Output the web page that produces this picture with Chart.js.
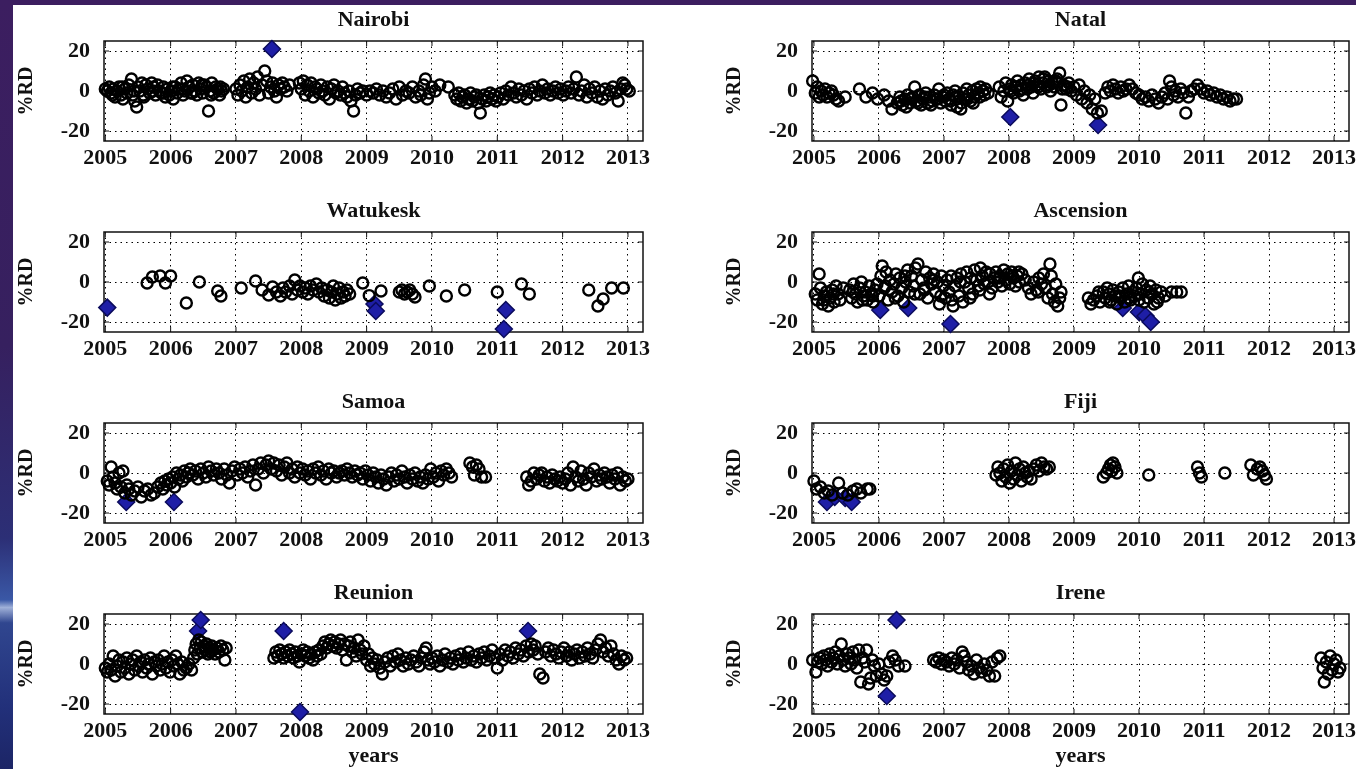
<!DOCTYPE html>
<html>
<head>
<meta charset="utf-8">
<script src="https://cdn.jsdelivr.net/npm/chart.js"></script>
<style>
  html, body { margin: 0; padding: 0; width: 1356px; height: 769px; overflow: hidden; }
  body {
    position: relative;
    background: linear-gradient(180deg, #3c1e60 0%, #36205f 45%, #2c2f76 70%, #3a58a6 78%, #9fb0d8 79%, #30468f 81%, #22307a 92%, #1c2566 100%);
  }
  #sheet { position: absolute; left: 13px; top: 5px; right: 0; bottom: 0; background: #fff; }
  canvas { position: absolute; }
</style>
</head>
<body>
<div id="sheet"></div>

<script>

// tick labels
const yearTicks = [2005, 2006, 2007, 2008, 2009, 2010, 2011, 2012, 2013];
const rdTicks = [-20, 0, 20];

// [year, %RD] per station; *Flag = flagged points (blue diamonds)
const nairobiRD = [
  [2005.00,1],[2005.03,0],[2005.06,2],[2005.09,-1],[2005.11,-2],[2005.12,1],[2005.15,-3],[2005.18,0],[2005.21,2],[2005.24,-2],
  [2005.26,2],[2005.27,-4],[2005.30,1],[2005.33,-1],[2005.36,3],[2005.40,6],[2005.42,-2],[2005.44,0],[2005.45,-5],[2005.48,-8],
  [2005.50,2],[2005.53,0],[2005.56,4],[2005.58,-2],[2005.59,-3],[2005.62,3],[2005.65,1],[2005.68,-1],[2005.71,4],[2005.73,0],
  [2005.74,2],[2005.77,-2],[2005.80,3],[2005.83,0],[2005.86,-1],[2005.88,-1],[2005.89,2],[2005.92,-3],[2005.95,1],[2005.98,-2],
  [2006.01,0],[2006.03,2],[2006.04,-4],[2006.07,2],[2006.10,-1],[2006.13,1],[2006.16,4],[2006.18,1],[2006.19,-2],[2006.22,0],
  [2006.25,5],[2006.28,2],[2006.31,-1],[2006.33,-1],[2006.34,3],[2006.37,0],[2006.40,-2],[2006.43,4],[2006.46,1],[2006.48,3],
  [2006.49,-1],[2006.52,3],[2006.55,2],[2006.58,-10],[2006.60,0],[2006.62,-2],[2006.63,4],[2006.66,-1],[2006.69,2],[2006.72,1],
  [2006.75,-2],[2006.76,2],[2006.78,0],[2006.81,1],
  [2007.00,1],[2007.03,-2],[2007.06,3],[2007.09,0],[2007.12,5],[2007.15,-3],[2007.18,2],[2007.21,6],[2007.24,-1],[2007.27,4],
  [2007.30,1],[2007.33,7],[2007.36,-2],[2007.40,3],[2007.44,10],[2007.47,5],[2007.50,-1],[2007.53,2],[2007.56,4],[2007.59,0],
  [2007.62,-3],[2007.65,3],[2007.68,1],[2007.71,4],[2007.74,2],[2007.78,0],[2007.82,3],
  [2007.97,4],[2008.00,1],[2008.03,5],[2008.06,-2],[2008.09,3],[2008.12,0],[2008.15,4],[2008.18,-3],[2008.21,2],[2008.24,1],
  [2008.27,-1],[2008.30,3],[2008.33,0],[2008.36,-2],[2008.40,2],[2008.43,-4],[2008.46,1],[2008.50,3],[2008.53,-1],[2008.56,0],
  [2008.60,-2],[2008.63,2],[2008.66,-1],[2008.70,-3],[2008.73,0],[2008.76,-5],[2008.80,-10],[2008.83,-2],[2008.86,1],[2008.90,-1],
  [2008.94,0],
  [2009.00,-2],[2009.05,0],[2009.10,-1],[2009.15,1],[2009.20,-2],[2009.25,0],[2009.30,-3],[2009.35,-1],[2009.40,1],[2009.45,-4],
  [2009.50,2],[2009.55,-2],[2009.60,0],[2009.65,-1],[2009.70,2],[2009.75,-3],[2009.80,0],[2009.83,-2],[2009.87,3],[2009.90,6],
  [2009.93,-4],[2009.96,-1],[2010.00,2],[2010.05,0],[2010.12,3],[2010.25,2],
  [2010.35,-2],[2010.38,-4],[2010.41,-1],[2010.44,-5],[2010.47,-3],[2010.50,-2],[2010.53,-6],[2010.56,-4],[2010.59,-1],[2010.62,-5],
  [2010.65,-3],[2010.68,-2],[2010.71,-6],[2010.74,-11],[2010.77,-4],[2010.80,-2],[2010.83,-5],[2010.86,-3],[2010.89,-1],[2010.92,-4],
  [2010.95,-2],[2010.98,-5],
  [2011.01,-3],[2011.05,-1],[2011.09,-4],[2011.13,0],[2011.17,-2],[2011.21,2],[2011.25,-1],[2011.29,-3],[2011.33,1],[2011.37,-2],
  [2011.41,0],[2011.45,-4],[2011.49,1],[2011.53,-1],[2011.57,2],[2011.61,-2],[2011.65,0],[2011.69,3],[2011.73,-1],[2011.77,1],
  [2011.81,-2],[2011.85,0],[2011.89,2],[2011.93,-1],[2011.97,1],[2012.01,-2],[2012.05,0],[2012.09,2],[2012.13,-1],[2012.17,1],
  [2012.21,7],[2012.25,-2],[2012.29,0],[2012.33,3],[2012.37,-3],[2012.41,1],[2012.45,-1],[2012.49,2],[2012.53,-3],[2012.57,0],
  [2012.61,-4],[2012.65,1],[2012.69,-2],[2012.73,0],[2012.77,2],[2012.81,-1],[2012.85,-5],[2012.89,1],[2012.92,4],[2012.95,3],
  [2012.98,1],[2013.02,0]
];
const nairobiFlag = [[2007.55,21]];

const natalRD = [
  [2004.98,5],[2005.02,-1],[2005.05,2],[2005.08,-3],[2005.11,0],[2005.14,-2],[2005.17,1],[2005.20,-3],[2005.23,-1],[2005.27,0],
  [2005.30,-2],[2005.34,-4],[2005.38,-5],[2005.48,-3],[2005.70,1],[2005.80,-3],[2005.90,-1],[2005.98,-4],[2006.08,-2],[2006.15,-5],
  [2006.20,-9],[2006.28,-6],[2006.32,-3],[2006.34,-5],[2006.36,-7],[2006.40,-4],[2006.42,-8],[2006.44,-2],[2006.48,-6],[2006.50,-4],
  [2006.52,-3],[2006.55,2],[2006.58,-5],[2006.60,-6],[2006.62,-2],[2006.65,-7],[2006.68,-4],[2006.70,-3],[2006.72,-1],[2006.75,-6],
  [2006.78,-3],[2006.80,-7],[2006.82,-5],[2006.85,-2],[2006.88,-4],[2006.90,-4],[2006.92,1],[2006.95,-6],[2006.98,-3],[2007.00,-2],
  [2007.02,-5],[2007.05,-1],[2007.08,-4],[2007.10,-5],[2007.11,-7],[2007.14,-2],[2007.17,0],[2007.18,-3],[2007.20,-8],[2007.23,-3],
  [2007.26,-9],[2007.27,-6],[2007.29,-1],[2007.32,-4],[2007.35,1],[2007.36,-4],[2007.38,-2],[2007.41,-5],[2007.44,0],[2007.45,-6],
  [2007.47,-3],[2007.50,1],[2007.53,-1],[2007.55,-3],[2007.56,2],[2007.60,0],[2007.62,-2],[2007.64,1],[2007.68,-1],
  [2007.85,2],[2007.88,-3],[2007.92,0],[2007.95,4],[2007.98,-5],[2008.01,1],[2008.03,0],[2008.04,3],[2008.07,-1],[2008.10,2],
  [2008.12,2],[2008.13,5],[2008.16,0],[2008.19,3],[2008.20,1],[2008.22,-2],[2008.25,4],[2008.28,1],[2008.30,3],[2008.31,6],
  [2008.34,2],[2008.37,-1],[2008.38,4],[2008.40,5],[2008.43,3],[2008.45,2],[2008.46,7],[2008.49,1],[2008.52,4],[2008.53,6],
  [2008.55,7],[2008.58,2],[2008.61,5],[2008.62,3],[2008.64,0],[2008.67,4],[2008.70,2],[2008.72,5],[2008.74,6],[2008.78,9],
  [2008.80,-7],[2008.82,1],[2008.84,3],[2008.88,1],[2008.90,2],[2008.92,4],[2008.96,0],[2009.00,2],[2009.04,-2],[2009.08,3],
  [2009.12,-4],[2009.16,0],[2009.20,-6],[2009.24,-2],[2009.28,-9],[2009.32,-4],[2009.36,-11],[2009.42,-10],[2009.48,-1],[2009.52,2],
  [2009.56,0],[2009.60,3],[2009.64,1],[2009.68,-1],[2009.72,2],[2009.76,0],[2009.80,1],[2009.85,3],[2009.90,1],[2009.95,-1],
  [2010.00,-2],[2010.05,-4],[2010.10,-3],[2010.15,-5],[2010.20,-2],[2010.25,-4],[2010.30,-6],[2010.35,-3],[2010.40,-1],[2010.44,-4],
  [2010.47,5],[2010.50,2],[2010.53,-2],[2010.56,0],[2010.60,-3],[2010.64,1],[2010.68,-1],[2010.72,-11],[2010.76,-3],[2010.80,0],
  [2010.85,1],[2010.90,3],[2010.95,1],[2011.00,-1],[2011.05,0],[2011.10,-2],[2011.15,-1],[2011.20,-3],[2011.25,-2],[2011.30,-4],
  [2011.35,-3],[2011.40,-5],[2011.45,-4],[2011.50,-4]
];
const natalFlag = [[2008.02,-13],[2009.37,-17]];

const watukeskRD = [
  [2005.64,-0.5],[2005.72,2.5],[2005.84,3],[2005.92,-0.5],[2006.00,3],[2006.24,-10.5],[2006.44,0],[2006.72,-4.5],[2006.77,-7],
  [2007.08,-3],[2007.30,0.5],[2007.40,-4],[2007.50,-6.5],[2007.56,-2.5],[2007.62,-5],[2007.68,-7],[2007.72,-3],[2007.76,-5],
  [2007.82,-2],[2007.86,-6],[2007.90,1],[2007.94,-4],[2007.98,-2],[2008.02,-5],[2008.06,-3],[2008.10,-6],[2008.14,-2],[2008.18,-4],
  [2008.23,-1],[2008.27,-5],[2008.31,-3],[2008.35,-7],[2008.39,-4],[2008.43,-8],[2008.46,-5],[2008.49,-2],[2008.52,-9],[2008.55,-6],
  [2008.58,-3],[2008.61,-8],[2008.64,-5],[2008.67,-7],[2008.70,-4],[2008.74,-6],[2008.94,-0.5],[2009.04,-6.8],[2009.22,-4.5],
  [2009.50,-5],[2009.54,-4],[2009.58,-6],[2009.62,-5],[2009.66,-4],[2009.70,-6],[2009.74,-7.5],[2009.96,-2],[2010.22,-7],
  [2010.50,-4],[2011.00,-5],[2011.37,-1],[2011.49,-6],[2012.40,-4],[2012.54,-12],[2012.62,-8.5],[2012.75,-3],[2012.93,-3]
];
const watukeskFlag = [[2005.03,-12.8],[2009.12,-11],[2009.14,-14.5],[2011.13,-14],[2011.10,-23.5]];

const ascensionRD = [
  [2005.02,-6],[2005.05,-9],[2005.08,4],[2005.10,-3],[2005.13,-11],[2005.15,-9],[2005.16,-7],[2005.19,-5],[2005.22,-12],[2005.25,-8],
  [2005.28,-4],[2005.30,-6],[2005.31,-10],[2005.34,-2],[2005.37,-6],[2005.40,-9],[2005.45,-3],
  [2005.55,-4],[2005.58,-8],[2005.60,-5],[2005.61,-1],[2005.64,-6],[2005.67,-10],[2005.70,-3],[2005.73,0],[2005.75,-9],[2005.76,-7],
  [2005.79,-5],[2005.82,-9],[2005.85,-2],[2005.88,-6],[2005.90,-7],[2005.91,-10],[2005.94,-4],[2005.97,-1],
  [2006.00,-7],[2006.03,3],[2006.05,8],[2006.08,-3],[2006.10,-2],[2006.11,5],[2006.14,-9],[2006.17,1],[2006.20,-5],[2006.23,-1],
  [2006.25,-8],[2006.26,4],[2006.29,-7],[2006.32,2],[2006.35,-3],[2006.38,-10],[2006.40,3],[2006.41,0],[2006.44,6],[2006.47,-5],
  [2006.50,3],[2006.53,-2],[2006.55,-6],[2006.56,7],[2006.60,9],[2006.63,-6],[2006.66,1],[2006.69,-3],[2006.70,-4],[2006.72,5],
  [2006.75,-8],[2006.78,2],[2006.81,-1],[2006.84,4],[2006.85,1],[2006.87,-5],[2006.90,0],[2006.93,-11],[2006.95,-7],[2006.96,3],
  [2006.99,-2],
  [2007.02,-8],[2007.05,1],[2007.08,-5],[2007.11,3],[2007.12,-9],[2007.14,-12],[2007.17,-2],[2007.20,2],[2007.23,-7],[2007.25,0],
  [2007.26,4],[2007.29,-10],[2007.32,0],[2007.35,5],[2007.38,-3],[2007.40,-8],[2007.41,2],[2007.44,-6],[2007.47,6],[2007.50,1],
  [2007.53,-2],[2007.55,-4],[2007.56,7],[2007.59,3],[2007.62,-1],[2007.65,5],[2007.68,0],[2007.70,-6],[2007.71,4],[2007.74,-3],
  [2007.77,2],
  [2007.80,5],[2007.83,0],[2007.85,2],[2007.86,3],[2007.89,-2],[2007.92,6],[2007.95,1],[2007.98,4],[2008.01,-1],[2008.04,5],
  [2008.05,3],[2008.07,2],[2008.10,-2],[2008.13,3],[2008.15,5],[2008.16,0],[2008.20,4],[2008.25,1],
  [2008.30,-3],[2008.34,-6],[2008.38,0],[2008.42,-4],[2008.45,-5],[2008.46,2],[2008.50,-1],[2008.53,4],[2008.56,-3],[2008.60,-8],
  [2008.63,9],[2008.65,3],[2008.67,-6],[2008.70,-10],[2008.72,-1],[2008.75,-12],[2008.78,-8],[2008.80,-5],
  [2009.22,-8],[2009.26,-11],[2009.30,-9],[2009.35,-7],[2009.38,-5],[2009.40,-10],[2009.45,-5],[2009.48,-8],[2009.51,-3],[2009.54,-6],
  [2009.55,-10],[2009.57,-9],[2009.60,-4],[2009.63,-7],[2009.66,-11],[2009.69,-5],[2009.70,-7],[2009.72,-8],[2009.75,-3],[2009.78,-10],
  [2009.81,-6],[2009.84,-2],[2009.85,-8],[2009.87,-9],[2009.90,-5],[2009.93,-7],[2009.96,-3],[2009.99,2],[2010.00,-9],[2010.02,-6],
  [2010.05,-1],[2010.08,-10],[2010.11,-4],[2010.14,-8],[2010.15,-5],[2010.17,-2],[2010.20,-6],[2010.23,-11],[2010.26,-4],[2010.28,-10],
  [2010.30,-8],[2010.34,-5],[2010.40,-7],[2010.50,-5],[2010.58,-5],[2010.65,-5]
];
const ascensionFlag = [[2006.02,-14],[2006.45,-13],[2007.10,-21],[2009.75,-13],[2010.00,-15],[2010.10,-17],[2010.18,-20]];

const samoaRD = [
  [2005.03,-4],[2005.06,-6],[2005.09,3],[2005.12,-2],[2005.15,-5],[2005.18,-8],[2005.21,0],[2005.24,-7],[2005.27,1],[2005.30,-10],
  [2005.33,-6],[2005.36,-8],[2005.40,-11],[2005.45,-9],[2005.50,-7],[2005.55,-12],[2005.60,-9],[2005.65,-8],[2005.70,-11],[2005.75,-10],
  [2005.80,-7],[2005.85,-5],[2005.88,-8],[2005.91,-4],[2005.94,-6],[2005.97,-3],[2006.00,-5],[2006.03,-2],[2006.06,-7],[2006.09,0],
  [2006.12,-3],[2006.15,-1],[2006.18,-4],[2006.21,1],[2006.24,-2],[2006.27,0],
  [2006.30,2],[2006.34,-1],[2006.38,1],[2006.42,-3],[2006.46,2],[2006.50,0],[2006.54,-2],[2006.58,3],[2006.62,1],[2006.66,-1],
  [2006.70,2],[2006.74,0],[2006.78,-3],[2006.82,2],[2006.86,-1],[2006.90,-5],[2006.94,1],[2006.98,3],[2007.02,-1],[2007.06,2],
  [2007.10,0],[2007.14,3],[2007.18,-2],[2007.22,1],[2007.26,4],[2007.30,-6],[2007.34,2],[2007.38,5],[2007.42,0],[2007.46,4],
  [2007.50,6],[2007.54,2],[2007.58,5],[2007.62,1],[2007.66,4],[2007.70,-1],[2007.74,3],[2007.78,5],[2007.82,0],[2007.86,2],
  [2007.90,-2],[2007.94,3],[2007.98,0],[2008.02,2],[2008.06,-1],[2008.10,1],[2008.14,-3],[2008.18,2],[2008.22,0],[2008.26,3],
  [2008.30,-1],[2008.34,1],[2008.38,-3],[2008.42,2],[2008.46,0],[2008.50,1],[2008.54,-2],[2008.58,0],[2008.62,1],[2008.66,-1],
  [2008.70,2],[2008.74,0],[2008.78,-2],[2008.82,1],[2008.86,-1],[2008.90,0],[2008.94,-3],[2008.98,1],[2009.02,-1],[2009.06,-4],
  [2009.10,0],[2009.14,-2],[2009.18,-5],[2009.22,-1],[2009.26,-3],[2009.30,-6],[2009.34,-2],[2009.38,0],[2009.42,-4],[2009.46,-1],
  [2009.50,-3],[2009.54,1],[2009.58,-2],[2009.62,-5],[2009.66,-1],[2009.70,-3],[2009.74,0],[2009.78,-4],[2009.82,-2],[2009.86,-5],
  [2009.90,-1],[2009.94,-3],[2009.98,2],[2010.02,-2],[2010.06,0],[2010.10,-4],[2010.14,1],[2010.18,-1],[2010.22,2],[2010.26,0],
  [2010.30,-2],
  [2010.58,5],[2010.62,3],[2010.65,-1],[2010.68,4],[2010.72,2],[2010.76,-2],[2010.82,-2],
  [2011.45,-2],[2011.48,-6],[2011.52,-4],[2011.56,0],[2011.60,-3],[2011.64,-1],[2011.68,0],[2011.72,-4],[2011.76,-2],[2011.80,-5],
  [2011.84,-1],[2011.88,-3],[2011.92,-4],[2011.96,-2],[2012.00,-5],[2012.04,-3],[2012.08,0],[2012.12,-6],[2012.16,3],[2012.20,-2],
  [2012.24,-4],[2012.28,1],[2012.32,-3],[2012.36,-6],[2012.40,0],[2012.44,-2],[2012.48,2],[2012.52,-4],[2012.56,-1],[2012.60,-3],
  [2012.64,0],[2012.68,-2],[2012.72,-5],[2012.76,-1],[2012.80,-3],[2012.84,0],[2012.88,-6],[2012.92,-2],[2012.96,-4],[2013.00,-3]
];
const samoaFlag = [[2005.32,-14.5],[2006.05,-14.5]];

const fijiRD = [
  [2005.00,-4],[2005.04,-8],[2005.10,-7],[2005.16,-10],[2005.22,-9],[2005.28,-11],[2005.38,-5],[2005.44,-10],[2005.52,-11],[2005.60,-9],
  [2005.66,-8],[2005.72,-10],[2005.82,-8],[2005.86,-8],
  [2007.80,-1],[2007.83,3],[2007.86,0],[2007.89,-4],[2007.92,2],[2007.95,-2],[2007.98,4],[2008.01,-5],[2008.04,1],[2008.07,-3],
  [2008.10,5],[2008.13,-1],[2008.16,2],[2008.19,-4],[2008.22,3],[2008.25,0],[2008.28,-2],[2008.31,1],[2008.34,-3],[2008.38,2],
  [2008.42,4],[2008.46,1],[2008.50,5],[2008.54,3],[2008.58,2],[2008.62,3],
  [2009.45,-2],[2009.50,0],[2009.53,2],[2009.56,4],[2009.58,1],[2009.60,5],[2009.63,3],[2009.66,0],
  [2010.15,-1],
  [2010.90,3],[2010.93,0],[2010.96,-2],
  [2011.32,0],
  [2011.72,4],[2011.76,-1],[2011.82,2],[2011.86,3],[2011.90,1],[2011.93,-1],[2011.96,-3]
];
const fijiFlag = [[2005.20,-14.5],[2005.32,-12],[2005.48,-12.5],[2005.58,-14.5]];

const reunionRD = [
  [2005.00,-2],[2005.03,-4],[2005.06,0],[2005.09,-3],[2005.12,4],[2005.15,-6],[2005.18,-1],[2005.21,2],[2005.24,-4],[2005.27,1],
  [2005.30,-2],[2005.33,3],[2005.36,-5],[2005.39,0],[2005.42,2],[2005.45,-3],[2005.48,4],[2005.51,-1],[2005.54,1],[2005.57,-4],
  [2005.60,2],[2005.63,-2],[2005.66,0],[2005.69,3],[2005.72,-5],[2005.75,1],[2005.78,-1],[2005.81,2],[2005.84,-3],[2005.87,0],
  [2005.90,4],[2005.93,-2],[2005.96,1],[2005.99,-4],[2006.02,2],[2006.05,-1],[2006.08,4],[2006.11,0],[2006.14,-5],[2006.17,1],
  [2006.20,-3],[2006.24,-2],[2006.28,0],[2006.32,-3],
  [2006.35,3],[2006.37,7],[2006.39,10],[2006.41,5],[2006.43,12],[2006.45,8],[2006.47,11],[2006.49,6],[2006.51,9],[2006.53,7],
  [2006.55,10],[2006.57,5],[2006.59,8],[2006.61,6],[2006.63,9],[2006.65,7],[2006.68,5],[2006.71,8],[2006.74,6],[2006.77,9],
  [2006.80,7],[2006.83,2],[2006.85,8],
  [2007.58,3],[2007.61,6],[2007.64,4],[2007.67,7],[2007.70,5],[2007.73,3],[2007.76,6],[2007.79,4],[2007.82,7],[2007.85,5],
  [2007.88,3],[2007.91,6],[2007.94,4],[2007.97,1],[2008.00,5],[2008.03,7],[2008.06,4],[2008.09,6],[2008.12,3],[2008.15,5],
  [2008.18,2],[2008.21,6],[2008.24,4],[2008.27,7],[2008.30,5],
  [2008.33,9],[2008.36,11],[2008.39,8],[2008.42,10],[2008.45,12],[2008.48,9],[2008.51,11],[2008.54,8],[2008.57,10],[2008.60,12],
  [2008.63,7],[2008.66,10],[2008.69,2],[2008.72,9],[2008.75,11],[2008.78,6],[2008.81,8],[2008.84,4],[2008.87,12],[2008.90,7],
  [2008.93,5],[2008.96,9],
  [2009.00,2],[2009.03,5],[2009.06,-1],[2009.09,3],[2009.12,0],[2009.16,2],[2009.20,-2],[2009.24,-5],[2009.28,1],[2009.32,3],
  [2009.36,-1],[2009.40,4],[2009.44,1],[2009.48,5],[2009.52,2],[2009.56,-1],[2009.60,3],[2009.64,0],[2009.68,2],[2009.72,4],
  [2009.76,1],[2009.80,-1],[2009.84,3],[2009.88,6],[2009.91,8],[2009.94,2],[2009.97,0],[2010.00,3],[2010.04,1],[2010.08,4],
  [2010.12,-1],[2010.16,2],[2010.20,5],[2010.24,1],[2010.28,3],[2010.32,0],[2010.36,4],[2010.40,2],[2010.44,5],[2010.48,1],
  [2010.52,3],[2010.56,6],[2010.60,2],[2010.64,4],[2010.68,1],[2010.72,5],[2010.76,3],[2010.80,6],[2010.84,2],[2010.88,4],
  [2010.92,7],[2010.96,3],[2011.00,-2],[2011.04,5],[2011.08,2],[2011.12,7],[2011.16,4],[2011.20,6],[2011.24,3],[2011.28,8],
  [2011.32,5],[2011.36,7],[2011.40,4],[2011.44,9],[2011.48,6],
  [2011.52,10],[2011.55,7],[2011.58,9],[2011.62,5],[2011.65,-5],[2011.70,-7],[2011.74,6],[2011.78,8],[2011.82,4],[2011.86,7],
  [2011.90,5],[2011.94,3],[2011.98,6],[2012.02,8],[2012.06,4],[2012.10,6],[2012.14,2],[2012.18,5],[2012.22,7],[2012.26,3],
  [2012.30,6],[2012.34,4],[2012.38,8],[2012.42,5],[2012.46,3],[2012.50,7],[2012.54,10],[2012.58,12],[2012.62,6],[2012.66,8],
  [2012.70,4],[2012.74,9],[2012.78,5],[2012.82,2],[2012.86,0],[2012.90,4],[2012.94,2],[2012.98,3]
];
const reunionFlag = [[2006.42,16.5],[2006.46,22],[2007.73,16.5],[2007.98,-24],[2011.47,16.5]];

const ireneRD = [
  [2004.98,2],[2005.03,-4],[2005.06,1],[2005.09,3],[2005.12,0],[2005.15,4],[2005.18,2],[2005.21,-1],[2005.24,5],[2005.27,1],
  [2005.30,3],[2005.33,6],[2005.36,0],[2005.39,4],[2005.42,10],[2005.45,2],[2005.48,-1],[2005.51,5],[2005.54,3],[2005.57,0],
  [2005.60,6],[2005.63,2],[2005.66,-2],[2005.69,7],[2005.72,-9],[2005.75,3],[2005.78,1],[2005.81,7],[2005.84,-10],[2005.87,-7],
  [2005.90,2],[2005.93,-1],[2005.96,-6],[2006.00,0],[2006.04,-5],[2006.08,-8],[2006.12,-6],[2006.16,1],[2006.21,4],[2006.25,2],
  [2006.30,-1],[2006.40,-1],
  [2006.84,2],[2006.88,1],[2006.92,3],[2006.96,0],[2007.00,2],[2007.04,1],[2007.08,-1],[2007.12,3],[2007.16,0],[2007.20,2],
  [2007.24,-2],[2007.28,6],[2007.31,4],[2007.35,1],[2007.38,-3],[2007.42,-1],[2007.46,-5],[2007.50,2],[2007.54,-2],[2007.58,-4],
  [2007.62,0],[2007.66,-3],[2007.70,-6],[2007.74,1],[2007.78,-6],[2007.82,3],[2007.86,4],
  [2012.80,3],[2012.83,-2],[2012.85,-9],[2012.88,1],[2012.91,-5],[2012.94,4],[2012.97,-3],[2013.00,0],[2013.03,2],[2013.06,-4],
  [2013.09,-2]
];
const ireneFlag = [[2006.27,22],[2006.12,-16]];

const panels = [
  { title: 'Nairobi',   col: 0, row: 0, rd: nairobiRD,   flag: nairobiFlag },
  { title: 'Natal',     col: 1, row: 0, rd: natalRD,     flag: natalFlag },
  { title: 'Watukesk',  col: 0, row: 1, rd: watukeskRD,  flag: watukeskFlag },
  { title: 'Ascension', col: 1, row: 1, rd: ascensionRD, flag: ascensionFlag },
  { title: 'Samoa',     col: 0, row: 2, rd: samoaRD,     flag: samoaFlag },
  { title: 'Fiji',      col: 1, row: 2, rd: fijiRD,      flag: fijiFlag },
  { title: 'Reunion',   col: 0, row: 3, rd: reunionRD,   flag: reunionFlag },
  { title: 'Irene',     col: 1, row: 3, rd: ireneRD,     flag: ireneFlag }
];

// subplot placement
const colLeft = [13, 721];
const rowTop = [5, 196, 387, 578];
const padRight = [37, 39];
const xMin = [2004.98, 2004.97];

Chart.defaults.font.family = "'Liberation Serif', 'Times New Roman', serif";
Chart.defaults.font.weight = 'bold';
Chart.defaults.color = '#111';

// matlab-style box with inward ticks
const boxFrame = {
  id: 'boxFrame',
  beforeDatasetsDraw(chart) {
    const { ctx, chartArea: a, scales: { x, y } } = chart;
    ctx.save();
    ctx.strokeStyle = '#111';
    ctx.lineWidth = 1.5;
    ctx.strokeRect(a.left, a.top, a.right - a.left, a.bottom - a.top);
    ctx.lineWidth = 1;
    ctx.beginPath();
    for (const v of yearTicks) {
      const px = x.getPixelForValue(v);
      ctx.moveTo(px, a.bottom); ctx.lineTo(px, a.bottom - 5);
      ctx.moveTo(px, a.top); ctx.lineTo(px, a.top + 5);
    }
    for (const v of rdTicks) {
      const py = y.getPixelForValue(v);
      ctx.moveTo(a.left, py); ctx.lineTo(a.left + 5, py);
      ctx.moveTo(a.right, py); ctx.lineTo(a.right - 5, py);
    }
    ctx.stroke();
    ctx.restore();
  }
};

function toPoints(list) {
  return list.map(([x, y]) => ({ x, y }));
}

function makePanel(p) {
  const last = p.row === 3;
  const canvas = document.createElement('canvas');
  canvas.width = 667;
  canvas.height = last ? 194 : 166;
  canvas.style.left = colLeft[p.col] + 'px';
  canvas.style.top = rowTop[p.row] + 'px';
  document.body.appendChild(canvas);

  new Chart(canvas, {
    type: 'scatter',
    data: {
      datasets: [
        {
          data: toPoints(p.rd),
          pointStyle: 'circle',
          pointRadius: 5.5,
          pointBorderWidth: 2.4,
          pointBorderColor: '#000',
          pointBackgroundColor: 'rgba(0,0,0,0)',
          clip: false
        },
        {
          data: toPoints(p.flag),
          pointStyle: 'rectRot',
          pointRadius: 8.5,
          pointBorderWidth: 1.5,
          pointBorderColor: '#0b0b5c',
          pointBackgroundColor: '#1e1ea6',
          clip: false
        }
      ]
    },
    options: {
      responsive: false,
      animation: false,
      events: [],
      layout: { padding: { left: 0, top: 0, bottom: 0, right: padRight[p.col] } },
      plugins: {
        legend: { display: false },
        tooltip: { enabled: false },
        title: {
          display: true,
          text: p.title,
          fullSize: false,
          color: '#111',
          font: { size: 22, weight: 'bold' },
          padding: { top: 2, bottom: 7.6 }
        }
      },
      scales: {
        x: {
          type: 'linear',
          min: xMin[p.col],
          max: 2013.23,
          afterBuildTicks: s => { s.ticks = yearTicks.map(v => ({ value: v })); },
          afterFit: s => { s.height = last ? 58 : 30; },
          ticks: { callback: v => String(v), font: { size: 22, weight: 'bold' }, padding: 4, maxRotation: 0, autoSkip: false },
          grid: { color: '#000', lineWidth: 1, drawTicks: false },
          border: { display: false, dash: [1.5, 4] },
          title: { display: last, text: 'years', font: { size: 22, weight: 'bold' }, padding: { top: 0, bottom: 2 } }
        },
        y: {
          min: -25,
          max: 25,
          afterBuildTicks: s => { s.ticks = rdTicks.map(v => ({ value: v })); },
          afterFit: s => { s.width = 91; },
          ticks: { callback: v => String(v), font: { size: 22, weight: 'bold' }, padding: 14 },
          grid: { color: '#000', lineWidth: 1, drawTicks: false },
          border: { display: false, dash: [1.5, 4] },
          title: { display: true, text: '%RD', font: { size: 20, weight: 'bold' }, padding: { top: 2, bottom: 0 } }
        }
      }
    },
    plugins: [boxFrame]
  });
}

panels.forEach(makePanel);

</script>
</body>
</html>
